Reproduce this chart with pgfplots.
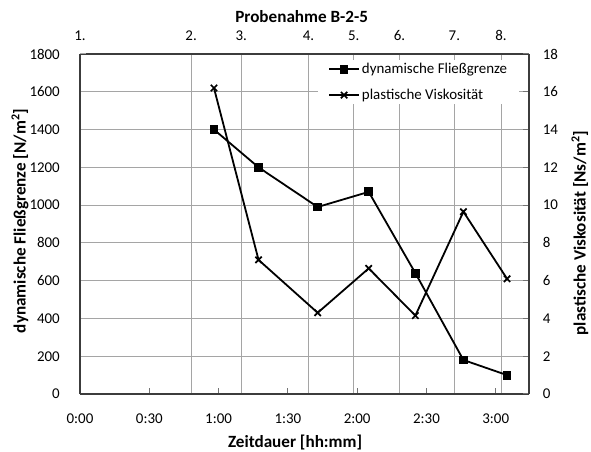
\documentclass[border=0pt]{standalone}
\usepackage{pgfplots}
\pgfplotsset{compat=1.18}
\usepackage{fontspec}
\setmainfont{Carlito}
\definecolor{gridgray}{RGB}{165,165,165}
\definecolor{axisgray}{RGB}{60,60,60}
\newcommand{\tickfont}{\fontsize{15}{18}\selectfont}
\newcommand{\labfont}{\fontsize{17.2}{20}\selectfont\bfseries}
\pgfplotsset{
  base/.style={
    at={(80bp,58bp)}, anchor=south west,
    scale only axis, width=449bp, height=340bp,
    xmin=0, xmax=194.4,
    /pgf/number format/assume math mode=true,
    /pgf/number format/1000 sep={},
    tick label style={font=\tickfont},
    axis line style={line width=1.6bp, color=axisgray},
    tick align=inside, major tick length=6bp,
    tick style={line width=1bp, color=black!55},
  }
}
\begin{document}
\begin{tikzpicture}
\useasboundingbox (0,0) rectangle (591bp,452bp);
% background: top axis with vertical grid lines, horizontal grid lines
\begin{axis}[base,
  ymin=0, ymax=1800,
  axis x line*=top, axis y line*=left,
  y axis line style={draw=none},
  xtick={0,48.1,69.8,98.9,118.5,138.3,162.1,182.3},
  xticklabels={1.,2.,3.,4.,5.,6.,7.,8.},
  xticklabel style={anchor=base, yshift=13.3bp},
  ytick={200,400,...,1600}, yticklabels={},
  xtick style={draw=none}, ytick style={draw=none},
  xmajorgrids, ymajorgrids,
  major grid style={line width=1bp, color=gridgray},
  xlabel={Probenahme B-2-5},
  xlabel style={font=\labfont, at={(axis description cs:0.4937,1.092)}, anchor=base},
]
\addplot[draw=none] coordinates {(0,0)};
\end{axis}
% left axis: dynamische Fliessgrenze
\begin{axis}[base,
  ymin=0, ymax=1800,
  axis x line*=bottom, axis y line*=left,
  xtick={0,30,60,90,120,150,180},
  xticklabels={0:00,0:30,1:00,1:30,2:00,2:30,3:00},
  xticklabel style={anchor=base, yshift=-29.3bp},
  ytick={0,200,...,1800},
  yticklabel style={anchor=east, inner sep=0pt, xshift=-20bp},
  ytick style={color=gridgray},
  xlabel={Zeitdauer [hh:mm]},
  xlabel style={font=\labfont, at={(axis description cs:0.479,-0.1568)}, anchor=base},
  ylabel={dynamische Fließgrenze [N/m\textsuperscript{2}]},
  ylabel style={font=\labfont, at={(axis description cs:-0.1336,0.509)}, anchor=center},
]
\addplot[black, line width=1.8bp, mark=square*, mark size=3.9bp,
  mark options={solid, fill=black, line width=1bp}]
  coordinates {(58.0,1400) (77.3,1200) (102.9,990) (125.0,1070) (145.2,640) (166.0,180) (184.9,100)};
\end{axis}
% right axis: plastische Viskositaet
\begin{axis}[base,
  ymin=0, ymax=18,
  axis y line*=right, axis x line=none,
  ytick={0,2,...,18},
  yticklabel style={anchor=west, inner sep=0pt, xshift=13.7bp},
  ytick style={color=black!55},
  ylabel={plastische Viskosität [Ns/m\textsuperscript{2}]},
  ylabel style={font=\labfont, at={(axis description cs:1.1136,0.4735)}, anchor=center, rotate=0},
  legend style={at={(axis description cs:0.530,0.982)}, anchor=north west,
    draw=none, fill=white, font=\fontsize{15}{18}\selectfont,
    inner xsep=10bp, inner ysep=1bp, row sep=10bp},
  legend cell align=left,
  legend image code/.code={\draw[mark repeat=2,mark phase=2,#1] plot coordinates {(0bp,0bp) (15bp,0bp) (30bp,0bp)};},
]
\addlegendimage{black, line width=1.8bp, mark=square*, mark size=3.9bp, mark options={solid, fill=black, line width=1bp}}
\addlegendentry{dynamische Fließgrenze}
\addplot[black, line width=1.8bp, mark=x, mark size=4.5bp, mark options={solid, line width=1.7bp}]
  coordinates {(58.0,16.2) (77.3,7.1) (102.9,4.3) (125.0,6.65) (145.2,4.15) (166.0,9.65) (184.9,6.1)};
\addlegendentry{plastische Viskosität}
\end{axis}
\end{tikzpicture}
\end{document}
